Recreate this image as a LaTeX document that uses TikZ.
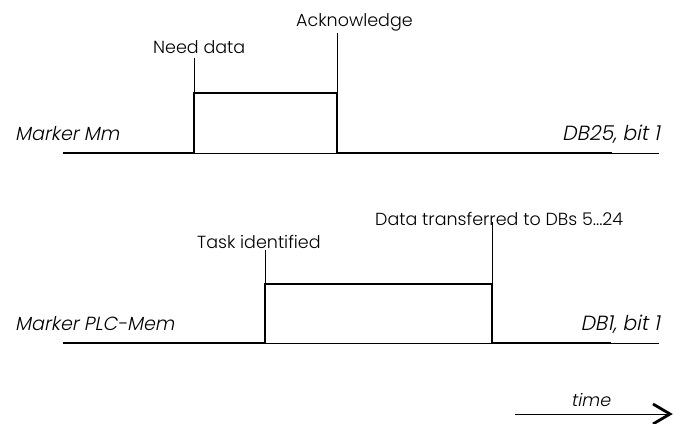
\documentclass[tikz,border=0pt]{standalone}
\usepackage{fontspec}
\setmainfont{Poppins Light}
\newfontfamily\obl{Poppins Light}[FakeSlant=0.2]
\usetikzlibrary{arrows.meta}
\begin{document}
\begin{tikzpicture}[x=1pt,y=-1pt,
  lbl/.style={inner sep=0pt,font=\fontsize{17.5}{20}\selectfont},
  olbl/.style={inner sep=0pt,font=\fontsize{19}{22}\selectfont\obl},
  dblbl/.style={inner sep=0pt,font=\fontsize{20.5}{22}\selectfont\obl},
  sig/.style={line width=2.4pt,line join=miter},
  refline/.style={line width=0.9pt},
  marker/.style={line width=0.8pt}]
\useasboundingbox (0,0) rectangle (674,423);
% labels
\node[lbl,anchor=base west] (ack) at (296,27) {Acknowledge};
\node[lbl,anchor=base west] (need) at (153,53) {Need data};
\node[olbl,anchor=base west] (mm) at (15,140) {Marker Mm};
\node[dblbl,anchor=base east] (db25) at (660,140) {DB25, bit 1};
\node[lbl,anchor=base west] (dt) at (375,225) {Data transferred to DBs 5...24};
\node[lbl,anchor=base west] (task) at (197,248) {Task identified};
\node[olbl,anchor=base west] (plc) at (15,330) {Marker PLC-Mem};
\node[dblbl,anchor=base east] (db1) at (660,330) {DB1, bit 1};
\node[olbl,anchor=base west,font=\fontsize{17.5}{20}\selectfont\obl] (time) at (571,406) {time};
% top signal
\coordinate (a0) at (63,153);
\coordinate (a1) at (194,153);
\coordinate (a2) at (194,93);
\coordinate (a3) at (337,93);
\coordinate (a4) at (337,153);
\coordinate (a5) at (612,153);
\coordinate (a6) at (659,153);
\coordinate (m1) at (194,58);
\coordinate (m2) at (337,33);
\draw[refline] (a0) -- (a6);
\draw[sig] (a0) -- (a1) -- (a2) -- (a3) -- (a4) -- (a5);
\draw[marker] (m1) -- (a2);
\draw[marker] (m2) -- (a3);
% bottom signal
\coordinate (b0) at (63,343);
\coordinate (b1) at (265,343);
\coordinate (b2) at (265,284);
\coordinate (b3) at (492,284);
\coordinate (b4) at (492,343);
\coordinate (b5) at (611,343);
\coordinate (b6) at (659,343);
\coordinate (n1) at (265,250);
\coordinate (n2) at (492,222);
\draw[refline] (b0) -- (b6);
\draw[sig] (b0) -- (b1) -- (b2) -- (b3) -- (b4) -- (b5);
\draw[marker] (n1) -- (b2);
\draw[marker] (n2) -- (b3);
% time arrow
\coordinate (t0) at (515,414);
\coordinate (t1) at (670,414);
\draw[refline] (t0) -- (t1);
\draw[line width=2.8pt,line cap=butt,line join=miter] (653,404) -- (670,414) -- (653,424);
\end{tikzpicture}
\end{document}
